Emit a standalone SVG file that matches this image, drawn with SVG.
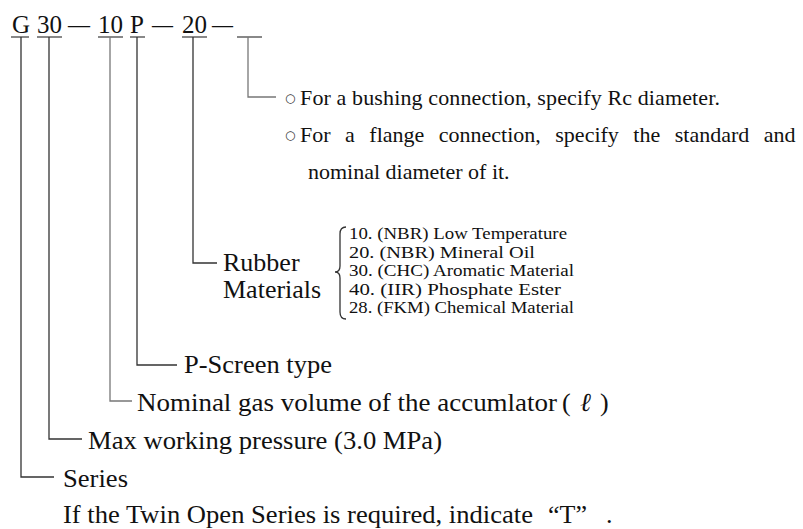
<svg xmlns="http://www.w3.org/2000/svg" width="803" height="529" viewBox="0 0 803 529">
<style>
.code{font-family:"Liberation Serif","Times New Roman",serif;font-size:25px;fill:#111}
.lbl{font-family:"Liberation Serif","Times New Roman",serif;font-size:26px;fill:#111}
.note{font-family:"Liberation Serif","Times New Roman",serif;font-size:22px;fill:#111}
.item{font-family:"Liberation Serif","Times New Roman",serif;font-size:16px;fill:#111}
.bul{font-family:"DejaVu Sans",sans-serif;font-size:12px;fill:#333}
.ul{stroke:#888;stroke-width:2;fill:none}
.dk{stroke:#333;stroke-width:1.3;fill:none}
.lt{stroke:#777;stroke-width:1.3;fill:none}
</style>
<g id="code">
<text class="code" x="12" y="33">G</text>
<text class="code" x="37" y="33">30</text>
<text class="code" x="68" y="33" textLength="22" lengthAdjust="spacingAndGlyphs">—</text>
<text class="code" x="98" y="33">10</text>
<text class="code" x="130" y="33">P</text>
<text class="code" x="152" y="33" textLength="21" lengthAdjust="spacingAndGlyphs">—</text>
<text class="code" x="182" y="33">20</text>
<text class="code" x="212" y="33" textLength="21" lengthAdjust="spacingAndGlyphs">—</text>
<path class="ul" d="M11,37H29M37,37H62M98,37H123M130,37H145M182,37H207M237,37H262"/>
</g>
<g id="connectors">
<path class="dk" d="M21,37V477H54"/>
<path class="dk" d="M49,37V439H82"/>
<path class="lt" d="M110,37V401H132"/>
<path class="dk" d="M137,37V365H177"/>
<path class="dk" d="M193,37V263H217"/>
<path class="lt" d="M248,37V97H276"/>
</g>
<g id="connection-note">
<text class="bul" x="285" y="102">○</text>
<text class="note" x="300" y="105" textLength="420" lengthAdjust="spacing">For a bushing connection, specify Rc diameter.</text>
<text class="bul" x="285" y="139">○</text>
<text class="note" x="300" y="142" style="word-spacing:9px">For a flange connection, specify the standard and</text>
<text class="note" x="308" y="179">nominal diameter of it.</text>
</g>
<g id="rubber">
<text class="lbl" x="223" y="271">Rubber</text>
<text class="lbl" x="223" y="298">Materials</text>
<path class="dk" d="M346,227 Q340,227 340,234 L340,266 Q340,272 335,272 Q340,272 340,278 L340,312 Q340,319 346,319"/>
<text class="item" x="349" y="239" textLength="218" lengthAdjust="spacingAndGlyphs">10. (NBR) Low Temperature</text>
<text class="item" x="349" y="257.5" textLength="186" lengthAdjust="spacingAndGlyphs">20. (NBR) Mineral Oil</text>
<text class="item" x="349" y="276" textLength="225" lengthAdjust="spacingAndGlyphs">30. (CHC) Aromatic Material</text>
<text class="item" x="349" y="294.5" textLength="212" lengthAdjust="spacingAndGlyphs">40. (IIR) Phosphate Ester</text>
<text class="item" x="349" y="313" textLength="225" lengthAdjust="spacingAndGlyphs">28. (FKM) Chemical Material</text>
</g>
<g id="p-screen">
<text class="lbl" x="184" y="373" textLength="148" lengthAdjust="spacingAndGlyphs">P-Screen type</text>
</g>
<g id="volume">
<text class="lbl" x="137" y="411"><tspan textLength="420" lengthAdjust="spacingAndGlyphs">Nominal gas volume of the accumlator</tspan><tspan x="562">(</tspan><tspan x="580" font-style="italic">ℓ</tspan><tspan x="600">)</tspan></text>
</g>
<g id="pressure">
<text class="lbl" x="88" y="449" textLength="354" lengthAdjust="spacingAndGlyphs">Max working pressure (3.0 MPa)</text>
</g>
<g id="series">
<text class="lbl" x="63" y="487" textLength="65" lengthAdjust="spacingAndGlyphs">Series</text>
<text class="lbl" x="63" y="523"><tspan textLength="470" lengthAdjust="spacingAndGlyphs">If the Twin Open Series is required, indicate</tspan><tspan x="548">“T”</tspan><tspan x="606">.</tspan></text>
</g>
</svg>
